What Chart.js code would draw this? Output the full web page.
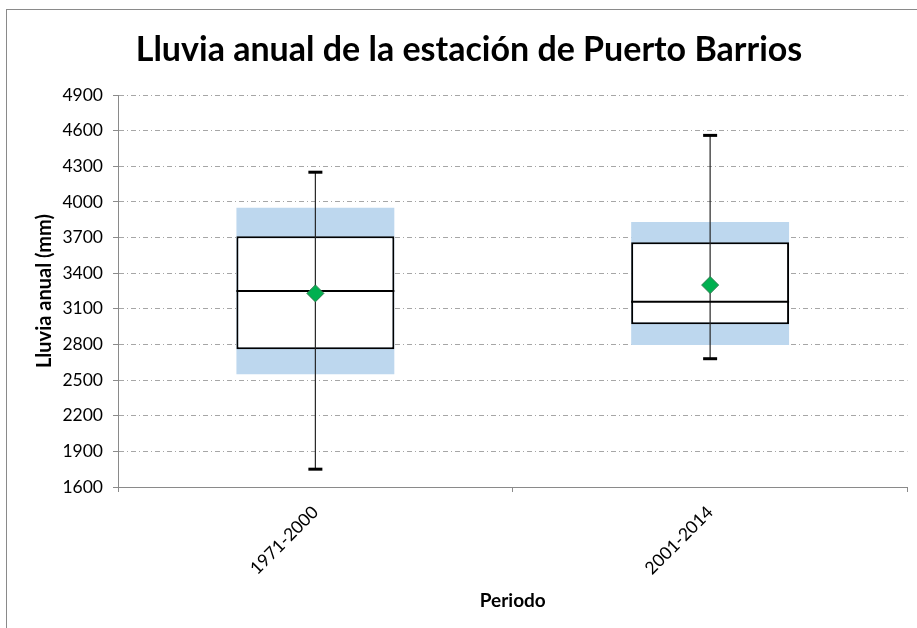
<!DOCTYPE html>
<html>
<head>
<meta charset="utf-8">
<script src="https://cdn.jsdelivr.net/npm/chart.js@4"></script>
<style>
  body { margin: 0; background: #fff; }
  #frame { position: absolute; left: 6px; top: 9px; width: 940px; height: 700px; border: 1px solid #8a8a8a; }
  #myChart { position: absolute; left: 0; top: 0; }
</style>
</head>
<body>
<div id="frame"></div>
<canvas id="myChart" width="917" height="628"></canvas>
<script>
// datos del diagrama de caja
const periodos = ['1971-2000', '2001-2014'];
const minimo = [1750, 2680];
const cuartil1 = [2760, 2970];
const mediana = [3250, 3160];
const cuartil3 = [3710, 3660];
const maximo = [4250, 4560];
const media = [3230, 3300];
const bandaInf = [2550, 2795];
const bandaSup = [3950, 3830];

const fuente = 'Lato, "Open Sans", sans-serif';

// bigotes y mediana, dibujados sobre la caja usando las escalas del grafico
const bigotesPlugin = {
    id: 'bigotes',
    afterDatasetDraw(chart, args) {
        if (args.index !== 1) return;
        const ctx = chart.ctx;
        const y = chart.scales.y;
        const meta = chart.getDatasetMeta(1);
        ctx.save();
        meta.data.forEach((bar, i) => {
            const x = bar.x;
            const half = bar.width / 2;
            // linea del bigote
            ctx.strokeStyle = '#262626';
            ctx.lineWidth = 1.2;
            ctx.beginPath();
            ctx.moveTo(x, y.getPixelForValue(minimo[i]));
            ctx.lineTo(x, y.getPixelForValue(maximo[i]));
            ctx.stroke();
            // topes
            ctx.strokeStyle = '#000';
            ctx.lineWidth = 3;
            [minimo[i], maximo[i]].forEach(v => {
                const py = y.getPixelForValue(v);
                ctx.beginPath();
                ctx.moveTo(x - 7, py);
                ctx.lineTo(x + 7, py);
                ctx.stroke();
            });
            // mediana
            ctx.lineWidth = 2;
            const pm = y.getPixelForValue(mediana[i]);
            ctx.beginPath();
            ctx.moveTo(x - half, pm);
            ctx.lineTo(x + half, pm);
            ctx.stroke();
        });
        ctx.restore();
    }
};

const ctx = document.getElementById('myChart').getContext('2d');
const myChart = new Chart(ctx, {
    type: 'bar',
    data: {
        labels: periodos,
        datasets: [{
            label: 'Desviacion',
            data: periodos.map((p, i) => [bandaInf[i], bandaSup[i]]),
            backgroundColor: '#BDD7EE',
            borderWidth: 0,
            grouped: false,
            order: 3
        }, {
            label: 'Caja',
            data: periodos.map((p, i) => [cuartil1[i], cuartil3[i]]),
            backgroundColor: '#ffffff',
            borderColor: '#000000',
            borderWidth: 2,
            borderSkipped: false,
            grouped: false,
            order: 2
        }, {
            type: 'line',
            label: 'Media',
            data: media,
            showLine: false,
            pointStyle: 'rectRot',
            pointRadius: 8.5,
            pointBackgroundColor: '#00B050',
            pointBorderColor: '#2E7D4F',
            pointBorderWidth: 1,
            order: 1
        }]
    },
    options: {
        responsive: false,
        animation: false,
        datasets: {
            bar: { barPercentage: 0.4, categoryPercentage: 1.0 }
        },
        layout: { padding: { left: 27, right: 6, top: 0, bottom: 0 } },
        plugins: {
            legend: { display: false },
            tooltip: { enabled: false },
            title: {
                display: true,
                text: 'Lluvia anual de la estación de Puerto Barrios',
                color: '#000',
                font: { family: fuente, size: 34, weight: 'bold', lineHeight: 1.2 },
                padding: { top: 30, bottom: 24.2 }
            }
        },
        scales: {
            x: {
                grid: {
                    offset: true,
                    drawOnChartArea: false,
                    tickLength: 5,
                    color: '#8a8a8a'
                },
                border: { color: '#8a8a8a', width: 1 },
                ticks: {
                    color: '#000',
                    font: { family: fuente, size: 17.5 },
                    minRotation: 45,
                    maxRotation: 45,
                    autoSkip: false,
                    padding: 10
                },
                title: {
                    display: true,
                    text: 'Periodo',
                    color: '#000',
                    font: { family: fuente, size: 19, weight: 'bold', lineHeight: 1.2 },
                    padding: 16
                },
                afterFit(scale) { scale.height = 141; }
            },
            y: {
                min: 1600,
                max: 4900,
                ticks: {
                    stepSize: 300,
                    color: '#000',
                    font: { family: fuente, size: 17.5 },
                    padding: 10,
                    callback: (v) => String(v)
                },
                grid: {
                    color: '#a6a6a6',
                    lineWidth: 1,
                    tickLength: 5,
                    tickColor: '#8a8a8a',
                    tickBorderDash: []
                },
                border: { display: true, color: '#8a8a8a', width: 1, dash: [5, 3, 1, 3] },
                title: {
                    display: true,
                    text: 'Lluvia anual (mm)',
                    color: '#000',
                    font: { family: fuente, size: 20, weight: 'bold', lineHeight: 1.2 },
                    padding: 6
                },
                afterFit(scale) { scale.width = 91; }
            }
        }
    },
    plugins: [bigotesPlugin]
});
</script>
</body>
</html>
